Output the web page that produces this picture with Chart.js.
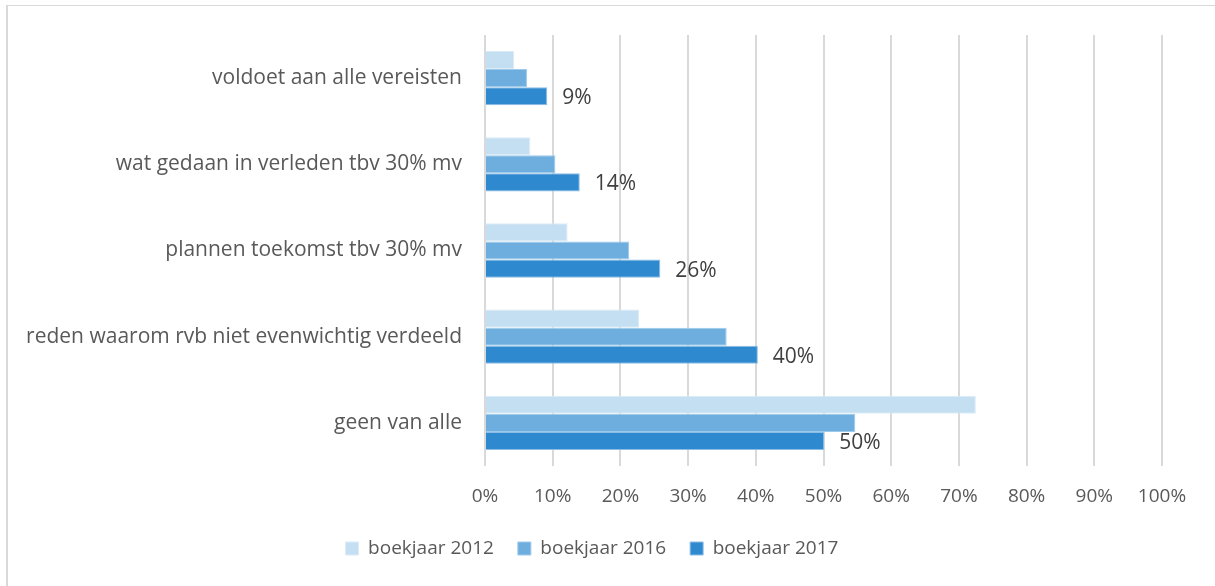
<!DOCTYPE html>
<html>
<head>
<meta charset="utf-8">
<script src="https://cdn.jsdelivr.net/npm/chart.js@4"></script>
<style>
    html, body { margin: 0; padding: 0; background: #fff; }
    #frame {
        position: absolute; left: 6px; top: 5px; width: 1300px; height: 700px;
        border-left: 2px solid #d9d9d9; border-top: 1px solid #d9d9d9;
    }
    #wrap { position: absolute; left: 0; top: 0; width: 1215px; height: 586px; }
</style>
</head>
<body>
<div id="frame"></div>
<div id="wrap"><canvas id="resultsChart"></canvas></div>
<script>
// Chart data
const categories = [
    'voldoet aan alle vereisten',
    'wat gedaan in verleden tbv 30% mv',
    'plannen toekomst tbv 30% mv',
    'reden waarom rvb niet evenwichtig verdeeld',
    'geen van alle'
];
const seriesNames = ['boekjaar 2012', 'boekjaar 2016', 'boekjaar 2017'];
const values2012 = [4.3, 6.7, 12.2, 22.8, 72.5];
const values2016 = [6.2, 10.4, 21.3, 35.7, 54.7];
const values2017 = [9.2, 14.0, 25.9, 40.3, 50.1];
const labels2017 = ['9%', '14%', '26%', '40%', '50%'];
const xTicks = [0, 10, 20, 30, 40, 50, 60, 70, 80, 90, 100];

const fontFamily = '"Open Sans", Lato, sans-serif';

// Draws the percentage labels next to the 2017 bars
const valueLabels = {
    id: 'valueLabels',
    afterDatasetsDraw(chart) {
        const ctx = chart.ctx;
        const meta = chart.getDatasetMeta(2);
        ctx.save();
        ctx.font = '21px ' + fontFamily;
        ctx.fillStyle = '#404040';
        ctx.textAlign = 'left';
        ctx.textBaseline = 'middle';
        meta.data.forEach((bar, i) => {
            ctx.fillText(labels2017[i], bar.x + 15, bar.y + 2);
        });
        ctx.restore();
    }
};

const ctx = document.getElementById('resultsChart').getContext('2d');
new Chart(ctx, {
    type: 'bar',
    data: {
        labels: categories,
        datasets: [
            { label: seriesNames[0], data: values2012, backgroundColor: '#c5dff2', borderColor: '#dcebf7', borderWidth: 1 },
            { label: seriesNames[1], data: values2016, backgroundColor: '#6daedf', borderColor: '#9ccaec', borderWidth: 1 },
            { label: seriesNames[2], data: values2017, backgroundColor: '#2e89cf', borderColor: '#8dbde6', borderWidth: 1 }
        ]
    },
    options: {
        indexAxis: 'y',
        responsive: true,
        maintainAspectRatio: false,
        animation: false,
        datasets: {
            bar: { barPercentage: 1, categoryPercentage: 0.63 }
        },
        layout: {
            padding: { left: 22, right: 53, top: 35, bottom: 18 }
        },
        scales: {
            x: {
                min: 0,
                max: 100,
                afterBuildTicks: scale => {
                    scale.ticks = xTicks.map(v => ({ value: v }));
                },
                afterFit: scale => { scale.height = 49; },
                grid: { color: '#d9d9d9', lineWidth: 2, drawTicks: false },
                border: { display: false },
                ticks: {
                    padding: 19,
                    color: '#595959',
                    font: { family: fontFamily, size: 19 },
                    callback: v => v + '%'
                }
            },
            y: {
                afterFit: scale => { scale.width = 463; },
                grid: { display: false },
                border: { display: false },
                ticks: {
                    padding: 15,
                    color: '#595959',
                    font: { family: fontFamily, size: 21 }
                }
            }
        },
        plugins: {
            legend: {
                position: 'bottom',
                labels: {
                    boxWidth: 13,
                    boxHeight: 13,
                    padding: 24,
                    color: '#595959',
                    font: { family: fontFamily, size: 19 }
                }
            },
            tooltip: { enabled: false }
        }
    },
    plugins: [valueLabels]
});
</script>
</body>
</html>
